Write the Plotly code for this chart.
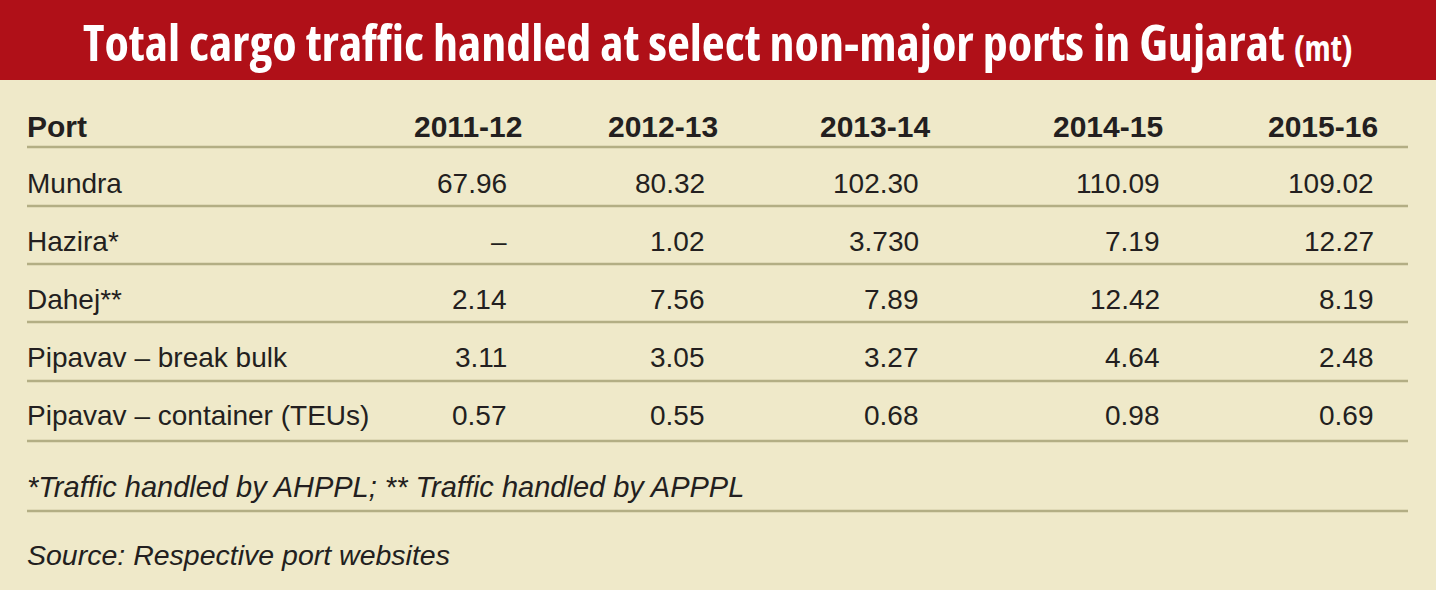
import plotly.graph_objects as go

# table content
ports = ["Mundra", "Hazira*", "Dahej**", "Pipavav – break bulk", "Pipavav – container (TEUs)"]
years = ["2011-12", "2012-13", "2013-14", "2014-15", "2015-16"]
y2011 = ["67.96", "–", "2.14", "3.11", "0.57"]
y2012 = ["80.32", "1.02", "7.56", "3.05", "0.55"]
y2013 = ["102.30", "3.730", "7.89", "3.27", "0.68"]
y2014 = ["110.09", "7.19", "12.42", "4.64", "0.98"]
y2015 = ["109.02", "12.27", "8.19", "2.48", "0.69"]
title = "Total cargo traffic handled at select non-major ports in Gujarat"
unit = "(mt)"
footnote = "*Traffic handled by AHPPL; ** Traffic handled by APPPL"
source = "Source: Respective port websites"

W, H = 1436, 590
RED = "#B01018"
BG = "#EFE9C9"
RULE = "#B3AE84"
INK = "#231F20"
BODY_FONT = "Liberation Sans, Arial, sans-serif"
TITLE_FONT = "Open Sans, sans-serif"

# layout of the table in pixel space
LEFT, RIGHT = 27, 1408
HEAD_Y = 126
ROW0_Y, ROW_STEP = 183, 58
HEAD_X = [522, 718, 930, 1163, 1378]
VAL_X = [507, 705, 919, 1160, 1374]
RULES_Y = [147, 206, 264, 322, 381, 441, 511]

columns = [y2011, y2012, y2013, y2014, y2015]

fig = go.Figure()
fig.add_trace(go.Scatter(x=[0, W], y=[0, H], mode="markers",
                         marker=dict(opacity=0), hoverinfo="skip", showlegend=False))

# title band
fig.add_shape(type="rect", xref="x", yref="y", x0=0, x1=W, y0=0, y1=80,
              fillcolor=RED, line_width=0, layer="below")
fig.add_annotation(x=W / 2, y=42, xref="x", yref="y", showarrow=False,
                   text=(f"<span style='font-stretch:75%;font-weight:700'>{title} "
                         f"<span style='font-size:35px'>{unit}</span></span>"),
                   font=dict(family=TITLE_FONT, size=50, color="white"),
                   xanchor="center", yanchor="middle")

# horizontal rules
for ry in RULES_Y:
    fig.add_shape(type="line", xref="x", yref="y", x0=LEFT, x1=RIGHT, y0=ry, y1=ry,
                  line=dict(color=RULE, width=2.5))

# header row
fig.add_annotation(x=LEFT - 2, y=HEAD_Y, xref="x", yref="y", showarrow=False,
                   text="<b>Port</b>", xanchor="left", yanchor="middle",
                   font=dict(family=BODY_FONT, size=30, color=INK))
for hx, yr in zip(HEAD_X, years):
    fig.add_annotation(x=hx + 2, y=HEAD_Y, xref="x", yref="y", showarrow=False,
                       text=f"<b>{yr}</b>", xanchor="right", yanchor="middle",
                       font=dict(family=BODY_FONT, size=30, color=INK))

# body rows
for i, port in enumerate(ports):
    ry = ROW0_Y + i * ROW_STEP
    fig.add_annotation(x=LEFT - 2, y=ry, xref="x", yref="y", showarrow=False,
                       text=port, xanchor="left", yanchor="middle",
                       font=dict(family=BODY_FONT, size=28, color=INK))
    for vx, col in zip(VAL_X, columns):
        fig.add_annotation(x=vx + 2, y=ry, xref="x", yref="y", showarrow=False,
                           text=col[i], xanchor="right", yanchor="middle",
                           font=dict(family=BODY_FONT, size=28, color=INK))

# notes
fig.add_annotation(x=LEFT - 2, y=487, xref="x", yref="y", showarrow=False,
                   text=f"<i>{footnote}</i>", xanchor="left", yanchor="middle",
                   font=dict(family=BODY_FONT, size=29, color=INK))
fig.add_annotation(x=LEFT - 2, y=555, xref="x", yref="y", showarrow=False,
                   text=f"<i>{source}</i>", xanchor="left", yanchor="middle",
                   font=dict(family=BODY_FONT, size=28.5, color=INK))

fig.update_layout(
    width=W, height=H,
    margin=dict(l=0, r=0, t=0, b=0),
    paper_bgcolor=BG, plot_bgcolor=BG,
    xaxis=dict(range=[0, W], visible=False, fixedrange=True),
    yaxis=dict(range=[H, 0], visible=False, fixedrange=True),
    showlegend=False,
)

fig.write_html("out.html", config={"displayModeBar": False},
               post_script="document.body.style.margin='0';")
